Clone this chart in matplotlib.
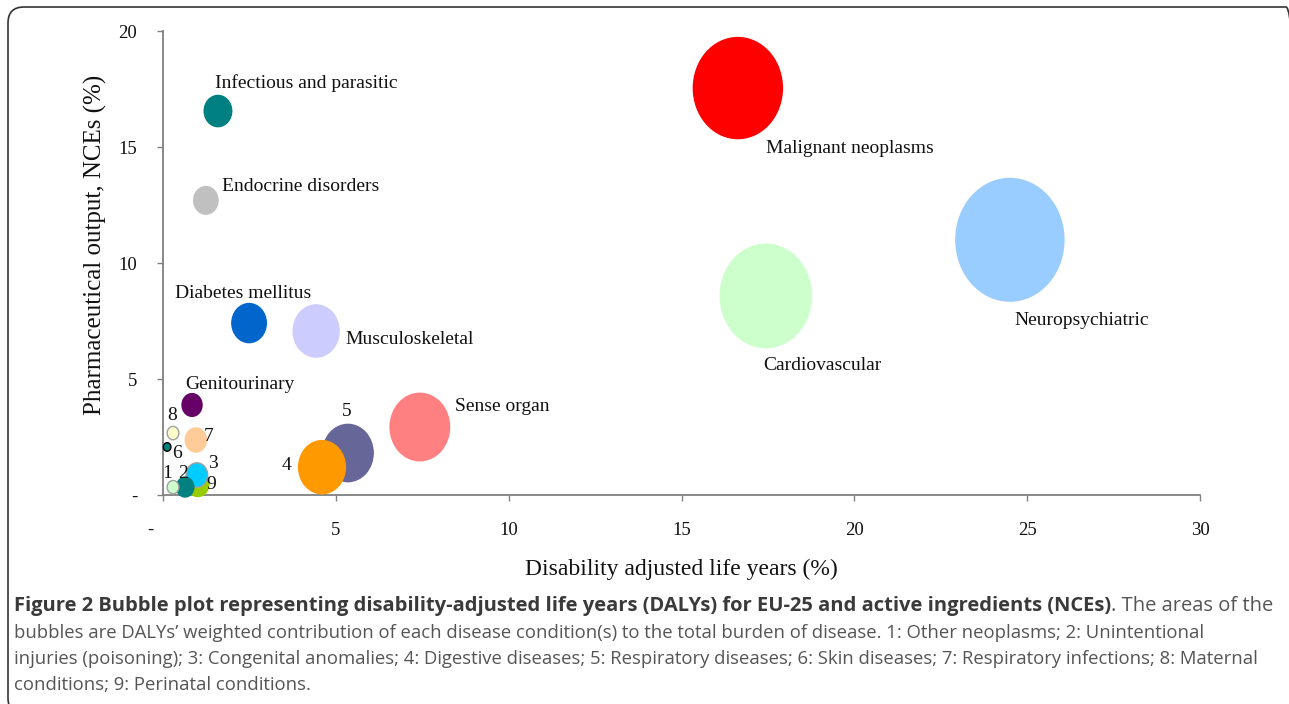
import matplotlib
matplotlib.use("Agg")
import matplotlib.pyplot as plt
from matplotlib.path import Path
from matplotlib.transforms import Affine2D, IdentityTransform, ScaledTranslation
from matplotlib.ticker import FuncFormatter
from matplotlib.patches import FancyBboxPatch

W, H = 1289, 704

# Данные: DALYs (%) по оси x, доля NCEs (%) по оси y
labels = ["9", "3", "2", "1", "6", "8", "7", "Genitourinary",
          "Infectious and parasitic", "Endocrine disorders", "Diabetes mellitus",
          "Musculoskeletal", "5", "4", "Sense organ",
          "Malignant neoplasms", "Cardiovascular", "Neuropsychiatric"]
dalys = [1.01, 0.98, 0.64, 0.29, 0.12, 0.29, 0.95, 0.84,
         1.59, 1.24, 2.49,
         4.43, 5.35, 4.60, 7.43,
         16.63, 17.44, 24.50]
nces = [0.47, 0.86, 0.34, 0.34, 2.07, 2.67, 2.37, 3.88,
        16.55, 12.70, 7.41,
        7.07, 1.81, 1.20, 2.93,
        17.54, 8.58, 11.00]
colors = ["#99CC00", "#00CCFF", "#008080", "#CCFFCC", "#008080", "#FFFFCC", "#FFCC99", "#660066",
          "#008080", "#C0C0C0", "#0066CC",
          "#CCCCFF", "#666699", "#FF9900", "#FF8080",
          "#FF0000", "#CCFFCC", "#99CCFF"]
edges = ["#99CC00", "#A0A0A0", "#008080", "#A0A0A0", "#000000", "#A0A0A0", "#FFCC99", "#660066",
         "#008080", "#C0C0C0", "#0066CC",
         "#CCCCFF", "#666699", "#FF9900", "#FF8080",
         "#FF0000", "#CCFFCC", "#99CCFF"]

# смещения подписей (в пикселях)
label_dx = [13, 16, -2, -6, 10, -1, 13, -7,
            -3, 16, -74,
            29, -1, -36, 35,
            28, -3, 5]
label_dy = [0, 12, 14, 14, -7, 18, 4, 20,
            28, 14, 30,
            -9, 42, 2, 21,
            -60, -70, -81]

serif = "Liberation Serif"

fig = plt.figure(figsize=(W / 100, H / 100), dpi=100)
ax = fig.add_axes([163 / W, 1 - 495 / H, (1200 - 163) / W, (495 - 31) / H])

# эллиптический маркер (пузыри в оригинале вытянуты по вертикали)
ell = Path.unit_circle().transformed(Affine2D().scale(1 / 1.135, 1))
k = 318
sizes = [k * d for d in dalys]
ax.scatter(dalys, nces, s=sizes, marker=ell, c=colors, edgecolors=edges,
           linewidths=1.0, zorder=3, clip_on=False)

for i, lab in enumerate(labels):
    ha = "center" if lab.isdigit() else "left"
    ax.annotate(lab, (dalys[i], nces[i]), xytext=(label_dx[i] * 0.72, label_dy[i] * 0.72),
                textcoords="offset points", ha=ha, va="center",
                fontsize=14, family=serif, color="#111111", zorder=4)

ax.set_xlim(0, 30)
ax.set_ylim(0, 20)
ax.set_xticks(range(0, 31, 5))
ax.set_yticks(range(0, 21, 5))
dash = FuncFormatter(lambda v, p: "-" if v == 0 else f"{int(v)}")
ax.xaxis.set_major_formatter(dash)
ax.yaxis.set_major_formatter(dash)
for s in ["top", "right"]:
    ax.spines[s].set_visible(False)
for s in ["left", "bottom"]:
    ax.spines[s].set_color("#808080")
    ax.spines[s].set_linewidth(1.3)
ax.tick_params(axis="both", direction="out", length=4.5, width=1.0, color="#808080",
               labelsize=13.5, labelcolor="#111111")
ax.tick_params(axis="x", pad=15)
ax.tick_params(axis="y", pad=14)
for t in ax.get_xticklabels() + ax.get_yticklabels():
    t.set_family(serif)

# "-" у нуля по оси x сдвинут влево, как в оригинале
t0 = ax.xaxis.get_major_ticks()[0].label1
t0.set_transform(t0.get_transform() + ScaledTranslation(-13 / 100, 0, fig.dpi_scale_trans))

ax.set_xlabel("Disability adjusted life years (%)", fontsize=17, family=serif,
              color="#111111", labelpad=14)
ax.set_ylabel("Pharmaceutical output, NCEs (%)", fontsize=18, family=serif,
              color="#111111")
ax.yaxis.set_label_coords(-0.054, 0.54)

# рамка вокруг рисунка (в пикселях)
frame = FancyBboxPatch((8, -10), 1294, 707,
                       boxstyle="round,pad=0,rounding_size=16",
                       transform=IdentityTransform(), fill=False, edgecolor="#333333",
                       linewidth=1.2, clip_on=False)
fig.patches.append(frame)

# подпись к рисунку
cap_font = "Open Sans"
bold = fig.text(14 / W, 1 - 616 / H,
                "Figure 2 Bubble plot representing disability-adjusted life years (DALYs) "
                "for EU-25 and active ingredients (NCEs)",
                fontsize=14.5, family=cap_font, weight="bold", color="#3a3a3a",
                ha="left", va="bottom")
ax.annotate(". The areas of the", xy=(1, 0), xycoords=bold, ha="left", va="bottom",
            fontsize=14.5, family=cap_font, color="#555555", annotation_clip=False)
rest = ["bubbles are DALYs\u2019 weighted contribution of each disease condition(s) to the total "
        "burden of disease. 1: Other neoplasms; 2: Unintentional",
        "injuries (poisoning); 3: Congenital anomalies; 4: Digestive diseases; 5: Respiratory "
        "diseases; 6: Skin diseases; 7: Respiratory infections; 8: Maternal",
        "conditions; 9: Perinatal conditions."]
for j, line in enumerate(rest):
    fig.text(14 / W, 1 - (642 + 26 * j) / H, line, fontsize=13.3, family=cap_font,
             color="#555555", ha="left", va="bottom")

fig.savefig("out.png", dpi=100)
